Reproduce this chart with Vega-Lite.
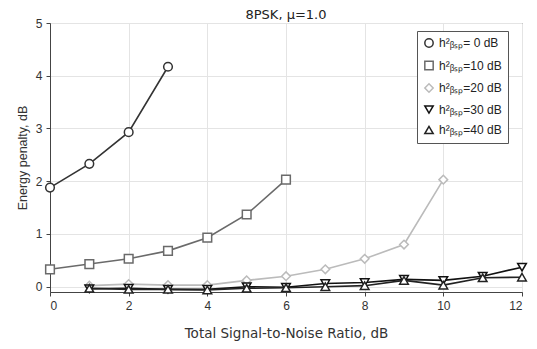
{
  "$schema": "https://vega.github.io/schema/vega-lite/v6.json",
  "width": 472,
  "height": 269,
  "autosize": "none",
  "padding": {"left": 50, "top": 23, "right": 15, "bottom": 57},
  "background": "white",
  "title": {"text": "8PSK, μ=1.0", "fontSize": 13, "font": "DejaVu Sans", "fontWeight": "normal", "color": "#222", "offset": -5},
  "config": {
    "view": {"stroke": "#444", "strokeWidth": 1},
    "axis": {"labelFont": "Liberation Sans", "titleFont": "Liberation Sans", "labelFontSize": 12, "titleFontSize": 12, "titleFontWeight": "normal", "labelColor": "#333", "titleColor": "#333", "gridColor": "#e4e4e4", "domainColor": "#444", "tickColor": "#444", "tickSize": 4}
  },
  "data": {"values": [
    {"snr": 0, "penalty": 1.88, "series": "h²ᵦₛₚ= 0 dB"},
    {"snr": 1, "penalty": 2.33, "series": "h²ᵦₛₚ= 0 dB"},
    {"snr": 2, "penalty": 2.93, "series": "h²ᵦₛₚ= 0 dB"},
    {"snr": 3, "penalty": 4.17, "series": "h²ᵦₛₚ= 0 dB"},
    {"snr": 0, "penalty": 0.33, "series": "h²ᵦₛₚ=10 dB"},
    {"snr": 1, "penalty": 0.43, "series": "h²ᵦₛₚ=10 dB"},
    {"snr": 2, "penalty": 0.53, "series": "h²ᵦₛₚ=10 dB"},
    {"snr": 3, "penalty": 0.68, "series": "h²ᵦₛₚ=10 dB"},
    {"snr": 4, "penalty": 0.93, "series": "h²ᵦₛₚ=10 dB"},
    {"snr": 5, "penalty": 1.37, "series": "h²ᵦₛₚ=10 dB"},
    {"snr": 6, "penalty": 2.03, "series": "h²ᵦₛₚ=10 dB"},
    {"snr": 1, "penalty": 0.02, "series": "h²ᵦₛₚ=20 dB"},
    {"snr": 2, "penalty": 0.05, "series": "h²ᵦₛₚ=20 dB"},
    {"snr": 3, "penalty": 0.03, "series": "h²ᵦₛₚ=20 dB"},
    {"snr": 4, "penalty": 0.03, "series": "h²ᵦₛₚ=20 dB"},
    {"snr": 5, "penalty": 0.12, "series": "h²ᵦₛₚ=20 dB"},
    {"snr": 6, "penalty": 0.2, "series": "h²ᵦₛₚ=20 dB"},
    {"snr": 7, "penalty": 0.33, "series": "h²ᵦₛₚ=20 dB"},
    {"snr": 8, "penalty": 0.53, "series": "h²ᵦₛₚ=20 dB"},
    {"snr": 9, "penalty": 0.8, "series": "h²ᵦₛₚ=20 dB"},
    {"snr": 10, "penalty": 2.03, "series": "h²ᵦₛₚ=20 dB"},
    {"snr": 1, "penalty": -0.04, "series": "h²ᵦₛₚ=30 dB"},
    {"snr": 2, "penalty": -0.03, "series": "h²ᵦₛₚ=30 dB"},
    {"snr": 3, "penalty": -0.05, "series": "h²ᵦₛₚ=30 dB"},
    {"snr": 4, "penalty": -0.05, "series": "h²ᵦₛₚ=30 dB"},
    {"snr": 5, "penalty": 0.0, "series": "h²ᵦₛₚ=30 dB"},
    {"snr": 6, "penalty": -0.01, "series": "h²ᵦₛₚ=30 dB"},
    {"snr": 7, "penalty": 0.06, "series": "h²ᵦₛₚ=30 dB"},
    {"snr": 8, "penalty": 0.08, "series": "h²ᵦₛₚ=30 dB"},
    {"snr": 9, "penalty": 0.14, "series": "h²ᵦₛₚ=30 dB"},
    {"snr": 10, "penalty": 0.12, "series": "h²ᵦₛₚ=30 dB"},
    {"snr": 11, "penalty": 0.2, "series": "h²ᵦₛₚ=30 dB"},
    {"snr": 12, "penalty": 0.37, "series": "h²ᵦₛₚ=30 dB"},
    {"snr": 1, "penalty": -0.03, "series": "h²ᵦₛₚ=40 dB"},
    {"snr": 2, "penalty": -0.05, "series": "h²ᵦₛₚ=40 dB"},
    {"snr": 3, "penalty": -0.05, "series": "h²ᵦₛₚ=40 dB"},
    {"snr": 4, "penalty": -0.06, "series": "h²ᵦₛₚ=40 dB"},
    {"snr": 5, "penalty": -0.03, "series": "h²ᵦₛₚ=40 dB"},
    {"snr": 6, "penalty": -0.02, "series": "h²ᵦₛₚ=40 dB"},
    {"snr": 7, "penalty": 0.0, "series": "h²ᵦₛₚ=40 dB"},
    {"snr": 8, "penalty": 0.02, "series": "h²ᵦₛₚ=40 dB"},
    {"snr": 9, "penalty": 0.12, "series": "h²ᵦₛₚ=40 dB"},
    {"snr": 10, "penalty": 0.03, "series": "h²ᵦₛₚ=40 dB"},
    {"snr": 11, "penalty": 0.17, "series": "h²ᵦₛₚ=40 dB"},
    {"snr": 12, "penalty": 0.18, "series": "h²ᵦₛₚ=40 dB"}
  ]},
  "encoding": {
    "x": {"field": "snr", "type": "quantitative", "scale": {"domain": [0, 12], "nice": false},
          "axis": {"title": "Total Signal-to-Noise Ratio, dB", "titleFont": "DejaVu Sans", "titleFontSize": 13.5, "values": [0, 2, 4, 6, 8, 10, 12], "titlePadding": 15, "labelPadding": 4}},
    "y": {"field": "penalty", "type": "quantitative", "scale": {"domain": [-0.1, 5], "nice": false, "zero": false},
          "axis": {"title": "Energy penalty, dB", "titleFontSize": 12.5, "values": [0, 1, 2, 3, 4, 5], "titlePadding": 6, "labelPadding": 4}},
    "color": {"field": "series", "type": "nominal",
              "scale": {"domain": ["h²ᵦₛₚ= 0 dB", "h²ᵦₛₚ=10 dB", "h²ᵦₛₚ=20 dB", "h²ᵦₛₚ=30 dB", "h²ᵦₛₚ=40 dB"],
                        "range": ["#333333", "#6a6a6a", "#bbbbbb", "#111111", "#222222"]},
              "legend": {"title": null, "orient": "none", "legendX": 367, "legendY": 8, "strokeColor": "#555", "fillColor": "white",
                         "padding": 6, "labelFont": "Liberation Sans", "labelFontSize": 12, "labelColor": "#222", "rowPadding": 6.5, "symbolSize": 70, "symbolStrokeWidth": 1.5}}
  },
  "layer": [
    {"mark": {"type": "line", "strokeWidth": 1.6}, "encoding": {"detail": {"field": "series"}}},
    {"mark": {"type": "point", "filled": false, "fill": "white", "size": 75, "strokeWidth": 1.5, "opacity": 1},
     "encoding": {"shape": {"field": "series", "type": "nominal",
        "scale": {"domain": ["h²ᵦₛₚ= 0 dB", "h²ᵦₛₚ=10 dB", "h²ᵦₛₚ=20 dB", "h²ᵦₛₚ=30 dB", "h²ᵦₛₚ=40 dB"],
                  "range": ["circle", "square", "diamond", "triangle-down", "triangle-up"]}}}}
  ]
}
